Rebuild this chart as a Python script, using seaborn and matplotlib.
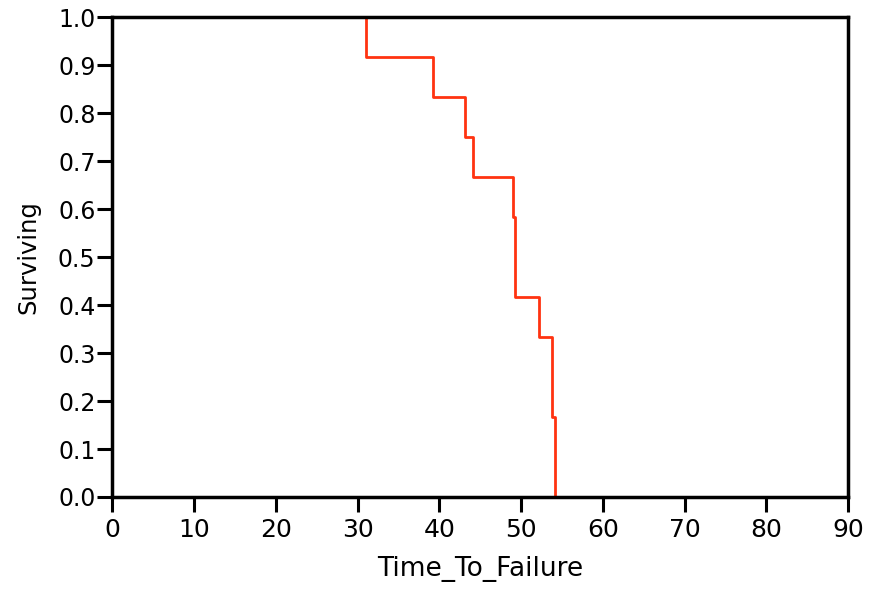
import matplotlib
matplotlib.use("Agg")
import matplotlib.pyplot as plt
import seaborn as sns
import pandas as pd

# failure times (12 units, all failed)
time_to_failure = [31.0, 39.2, 43.1, 44.1, 49.0, 49.3, 49.3, 52.2, 53.8, 53.8, 54.2, 54.2]
x_ticks = [0, 10, 20, 30, 40, 50, 60, 70, 80, 90]
y_ticks = [0.0, 0.1, 0.2, 0.3, 0.4, 0.5, 0.6, 0.7, 0.8, 0.9, 1.0]

df = pd.DataFrame({"Time_To_Failure": time_to_failure})

sns.set_style("white")
plt.rcParams['font.family'] = ['DejaVu Sans']
plt.rcParams['text.color'] = 'black'
plt.rcParams['axes.labelcolor'] = 'black'
plt.rcParams['xtick.color'] = 'black'
plt.rcParams['ytick.color'] = 'black'

fig = plt.figure(figsize=(8.7, 5.92), dpi=100)
ax = fig.add_axes([0.129, 0.1605, 0.846, 0.8105])

sns.ecdfplot(data=df, x="Time_To_Failure", complementary=True, ax=ax,
             color="#ff3311", linewidth=2)

ax.set_xlim(0, 90)
ax.set_ylim(0, 1)
ax.set_xticks(x_ticks)
ax.set_yticks(y_ticks)
ax.set_yticklabels([f"{v:.1f}" for v in y_ticks])
ax.tick_params(axis='both', direction='out', length=11, width=2.2,
               left=True, bottom=True, top=False, right=False)
ax.tick_params(axis='y', labelsize=17, pad=1)
ax.tick_params(axis='x', labelsize=18, pad=4)
for s in ax.spines.values():
    s.set_linewidth(2.5)
    s.set_color('black')
ax.set_xlabel("Time_To_Failure", fontsize=19, labelpad=10)
ax.set_ylabel("Surviving", fontsize=17.5)
ax.yaxis.set_label_coords(-0.097, 0.5)

fig.savefig("out.png", dpi=100)
